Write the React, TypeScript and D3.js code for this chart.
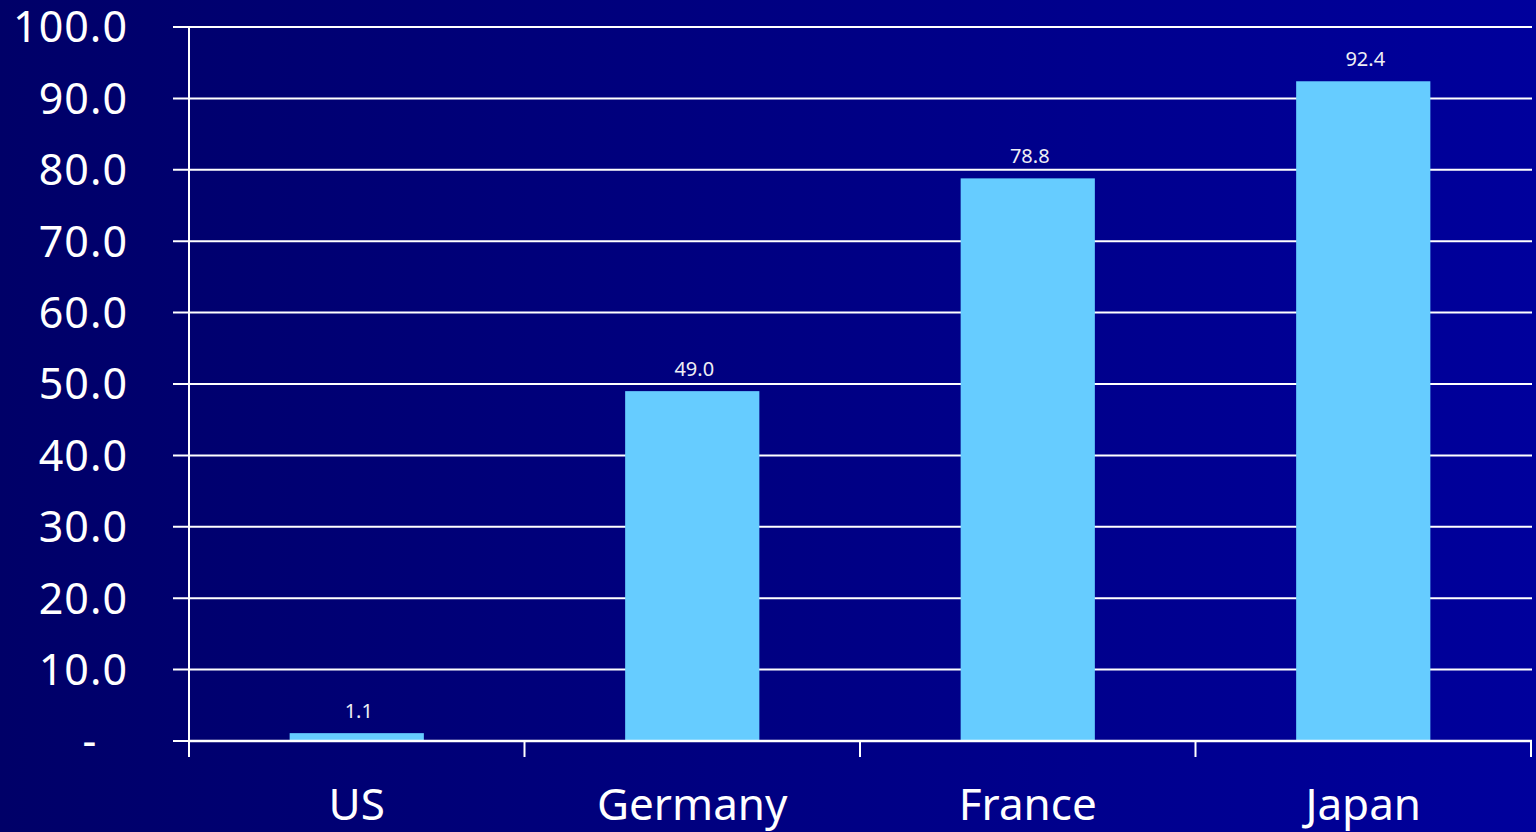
import React from "react";
import * as d3 from "d3";

const categories = ["US", "Germany", "France", "Japan"];
const values = [1.1, 49.0, 78.8, 92.4];
const valueLabels = ["1.1", "49.0", "78.8", "92.4"];
const yTicks = [0, 10, 20, 30, 40, 50, 60, 70, 80, 90, 100];
const yTickLabels = ["-", "10.0", "20.0", "30.0", "40.0", "50.0", "60.0", "70.0", "80.0", "90.0", "100.0"];

const W = 1536;
const H = 832;
const left = 189;
const right = 1531;
const top = 27;
const bottom = 741;
const FONT = "'Noto Sans', 'Open Sans', sans-serif";

export default function App() {
  const x = d3.scaleBand<string>().domain(categories).range([left, right]).paddingInner(0.6).paddingOuter(0.3);
  const y = d3.scaleLinear().domain([0, 100]).range([bottom, top]);
  const step = x.step();
  const boundaries = d3.range(categories.length + 1).map((i) => left + i * step);

  return (
    <svg width={W} height={H} style={{ position: "absolute", left: 0, top: 0, display: "block" }}>
      <defs>
        <linearGradient id="bg" x1="0" y1="0" x2="1" y2="0">
          <stop offset="0" stopColor="#000068" />
          <stop offset="1" stopColor="#00009C" />
        </linearGradient>
      </defs>
      <rect x={0} y={0} width={W} height={H} fill="url(#bg)" />
      {yTicks.map((t, i) => (
        <g key={t}>
          <line x1={173} x2={right + 1} y1={y(t)} y2={y(t)} stroke="#FFFFFF" strokeWidth={2} />
          <text
            x={t === 0 ? 90 : 128}
            y={y(t)}
            dy="0.36em"
            textAnchor={t === 0 ? "middle" : "end"}
            fill="#FFFFFF"
            fontFamily={FONT}
            fontSize={43}
            letterSpacing={1}
          >
            {yTickLabels[i]}
          </text>
        </g>
      ))}
      <line x1={left} x2={left} y1={top} y2={bottom + 16} stroke="#FFFFFF" strokeWidth={2} />
      {boundaries.map((b, i) => (
        <line key={i} x1={b} x2={b} y1={bottom} y2={bottom + 16} stroke="#FFFFFF" strokeWidth={2} />
      ))}
      {categories.map((c, i) => (
        <g key={c}>
          <rect x={x(c)!} y={y(values[i])} width={x.bandwidth()} height={bottom - y(values[i])} fill="#66CCFF" />
          <text
            x={x(c)! + x.bandwidth() / 2 + 2}
            y={y(values[i]) - 15}
            textAnchor="middle"
            fill="#EEEEF4"
            fontFamily={FONT}
            fontSize={20}
          >
            {valueLabels[i]}
          </text>
          <text
            x={x(c)! + x.bandwidth() / 2}
            y={820}
            textAnchor="middle"
            fill="#FFFFFF"
            fontFamily={FONT}
            fontSize={44}
          >
            {c}
          </text>
        </g>
      ))}
      <line x1={left} x2={right + 1} y1={bottom} y2={bottom} stroke="#FFFFFF" strokeWidth={2.5} />
    </svg>
  );
}
